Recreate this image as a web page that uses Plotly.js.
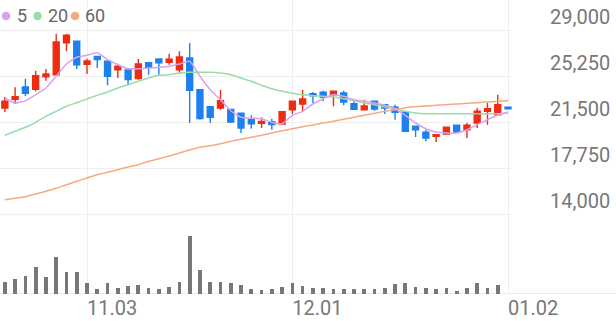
<!DOCTYPE html>
<html><head><meta charset="utf-8">
<script src="https://cdn.plot.ly/plotly-3.0.1.min.js"></script>
<style>html,body{margin:0;padding:0;background:#fff}#c{width:616px;height:321px}</style>
</head><body><div id="c"></div>
<script>
// ---- data ----
const dayIndex = Array.from({length: 50}, (_, i) => i);
const tickIndex = [8, 28, 49];
const tickLabels = ['11.03', '12.01', '01.02'];
const priceTicks = [29000, 25250, 21500, 17750, 14000];

const openP  = [22700,23410,24410,24220,25250,25410,28020,28140,26260,26910,26510,25820,25800,25090,26390,26690,26420,25820,26780,24190,22800,22700,22590,22270,21750,21450,21580,21390,22560,23030,23860,23980,23780,23920,23050,22560,23250,22970,22760,22370,21210,20720,20390,20580,21290,20930,21480,22430,22150,22760];
const highP  = [23600,24390,25090,25740,25880,28730,28730,28190,26720,26930,26530,26310,25810,26690,26400,26700,27130,27320,28000,24200,22820,24170,22600,22280,22100,21940,21830,22420,23290,24170,24000,24110,24080,24110,23250,23380,23290,22980,22970,22420,21220,20930,20580,21140,21300,21480,22700,23110,23780,22760];
const lowP   = [22370,23030,23650,24060,24920,25350,27320,25880,25470,25960,24550,25140,24550,25010,25410,25410,26230,25550,21480,21750,21480,22560,21480,20660,21010,21070,20930,21340,22210,22450,23110,23250,22840,22920,22590,22550,22480,22210,21750,20750,20330,19980,19930,20560,20720,20250,21070,21340,22100,22640];
const closeP = [23250,23620,23900,25330,25470,28080,28630,26230,26530,26640,25280,26100,25010,26290,26020,26390,26670,26860,24140,21830,21940,23290,21560,21070,21420,21610,21340,22400,23250,23430,23700,23570,24060,23190,22590,22860,22620,22700,22350,20800,20930,20250,20520,21130,20740,21290,22430,22640,22970,22640];

const ma5  = [23514,23106,23294,23783,24329,25283,26285,26832,26995,27207,26636,26228,25902,25902,25959,26016,26098,26285,26505,25283,24190,23375,22478,21940,21883,21826,21533,21419,22103,22430,23025,23457,23783,23652,23375,23245,23106,22919,22641,22103,21476,21011,20742,20660,20660,20930,21337,21745,22103,22372];
const ma20 = [20473,20799,21125,21533,22022,22430,22837,23131,23432,23734,24003,24329,24598,24875,25144,25364,25413,25552,25609,25609,25609,25552,25413,25144,24875,24549,24272,24060,23897,23783,23701,23652,23595,23457,23294,23106,22968,22780,22641,22430,22291,22234,22234,22234,22234,22234,22234,22234,22234,22291];
const ma60 = [15223,15337,15468,15688,15908,16152,16446,16723,16992,17261,17457,17669,17889,18076,18353,18565,18786,19030,19275,19495,19625,19788,19984,20147,20310,20473,20660,20848,21011,21174,21313,21476,21614,21777,21940,22103,22266,22430,22560,22723,22804,22862,22919,22968,23025,23082,23131,23188,23245,23294];

const volume = [123000,147000,183000,267000,167000,367000,220000,220000,113000,50000,107000,57000,80000,90000,57000,47000,73000,123000,583000,240000,120000,120000,113000,87000,47000,40000,47000,73000,107000,83000,57000,57000,47000,50000,47000,47000,47000,57000,97000,113000,73000,57000,50000,57000,33000,57000,113000,63000,90000,5000];

const maNames = ['5', '20', '60'];
const maColors = ['#d9a2f1', '#98dca8', '#f9a77f'];
const upColor = '#ec2d12', downColor = '#1d80ee';

// ---- layout geometry ----
const PW = 512, PH = 294;
const xRange = [-0.473, 49.39];
const gridC = '#eeeeee';
const split = (PH - 217) / PH;

const traces = [
  {
    type: 'candlestick', x: dayIndex, open: openP, high: highP, low: lowP, close: closeP,
    xaxis: 'x', yaxis: 'y', whiskerwidth: 0,
    increasing: {line: {color: upColor, width: 1.4}, fillcolor: upColor},
    decreasing: {line: {color: downColor, width: 1.4}, fillcolor: downColor},
    hoverinfo: 'skip'
  },
  {type:'scatter', mode:'lines', x: dayIndex, y: ma60, line:{color: maColors[2], width:1.5, shape:'spline', smoothing:0.5}, xaxis:'x', yaxis:'y'},
  {type:'scatter', mode:'lines', x: dayIndex, y: ma20, line:{color: maColors[1], width:1.5, shape:'spline', smoothing:0.5}, xaxis:'x', yaxis:'y'},
  {type:'scatter', mode:'lines', x: dayIndex, y: ma5,  line:{color: maColors[0], width:1.5, shape:'spline', smoothing:0.5}, xaxis:'x', yaxis:'y'},
  {type:'bar', x: dayIndex, y: volume, width: 0.36, marker:{color:'#777777'}, xaxis:'x2', yaxis:'y2'}
];

const annotations = priceTicks.map(t => ({
  xref:'paper', x: 612/PW, xanchor:'right', yref:'y', y: t, yanchor:'middle', yshift: 13.6,
  text: t.toLocaleString('en-US'), showarrow:false,
  font:{family:'Roboto', size:20, color:'#777777'}
}));

const legendDotX = [6, 37.5, 75];
const legendTextX = [14.5, 45.5, 83];
const legY = 16;
const shapes = [];
maNames.forEach((n, k) => {
  shapes.push({type:'circle', xref:'paper', yref:'paper', layer:'above',
    x0:(legendDotX[k]-4.3)/PW, x1:(legendDotX[k]+4.3)/PW,
    y0:1-(legY+4.3)/PH, y1:1-(legY-4.3)/PH,
    fillcolor: maColors[k], line:{width:0}});
  annotations.push({xref:'paper', x: legendTextX[k]/PW, xanchor:'left', yref:'paper', y: 1-legY/PH, yanchor:'middle',
    text: n, showarrow:false, font:{family:'Roboto', size:18, color:'#666666'}});
});
shapes.push({type:'line', xref:'paper', yref:'y2', x0:0, x1:616/PW, y0:0, y1:0, line:{color:'#e6e6e6', width:1.5}, layer:'below'});

const layout = {
  width:616, height:321, margin:{l:0, r:616-PW, t:0, b:321-PH},
  paper_bgcolor:'#ffffff', plot_bgcolor:'#ffffff', showlegend:false,
  boxgap:0.42, boxgroupgap:0, bargap:0,
  xaxis:{domain:[0,1], range:xRange, anchor:'y', tickvals:tickIndex, showticklabels:false, ticks:'',
    showgrid:true, gridcolor:gridC, gridwidth:1, zeroline:false, showline:false, rangeslider:{visible:false}, fixedrange:true},
  yaxis:{domain:[split,1], range:[13813,31503], tickvals:priceTicks, showticklabels:false, ticks:'',
    showgrid:true, gridcolor:gridC, gridwidth:1, zeroline:false, showline:false, fixedrange:true},
  xaxis2:{domain:[0,1], range:xRange, anchor:'y2', tickvals:tickIndex, ticktext:tickLabels, ticks:'',
    ticklabelposition:'outside right', tickfont:{family:'Roboto', size:20, color:'#777777'},
    showgrid:true, gridcolor:gridC, gridwidth:1, zeroline:false, showline:false, fixedrange:true},
  yaxis2:{domain:[0,split], range:[0,770000], showticklabels:false, showgrid:false, zeroline:false, ticks:'', fixedrange:true},
  annotations, shapes
};

Plotly.newPlot('c', traces, layout, {staticPlot:true, displayModeBar:false});
</script>
</body></html>
